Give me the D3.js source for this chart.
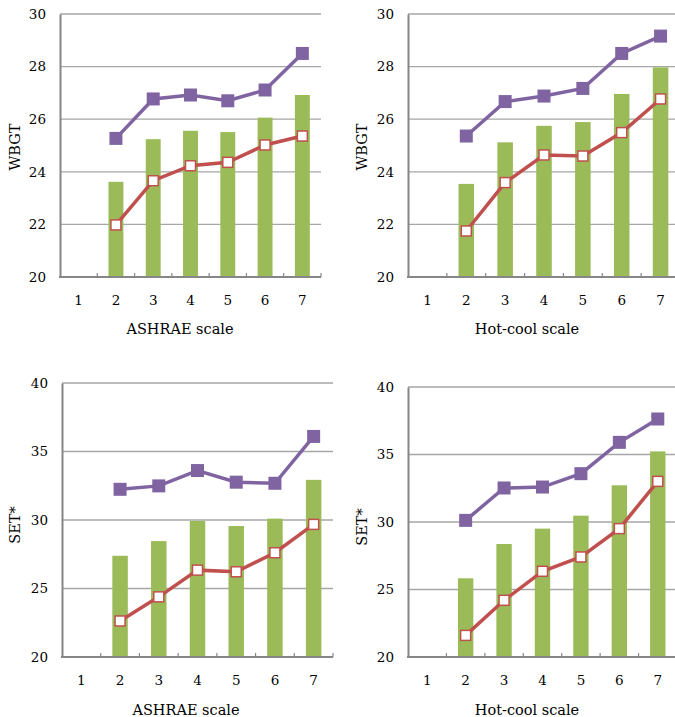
<!DOCTYPE html>
<html>
<head>
<meta charset="utf-8">
<script src="https://cdn.jsdelivr.net/npm/d3@7"></script>
<style>
  html, body { margin: 0; padding: 0; background: #fff; }
  svg { display: block; }
  text { font-family: "DejaVu Serif", serif; fill: #000; }
</style>
</head>
<body>
<svg id="chart" width="675" height="717"></svg>
<script>
// ---- data ----
const categories = [1, 2, 3, 4, 5, 6, 7];

const wbgtTicks = [20, 22, 24, 26, 28, 30];
const setTicks = [20, 25, 30, 35, 40];

const wbgtAshraeBars   = [null, 23.62, 25.24, 25.56, 25.51, 26.06, 26.92];
const wbgtAshraeUpper  = [null, 25.27, 26.77, 26.92, 26.70, 27.11, 28.50];
const wbgtAshraeLower  = [null, 21.98, 23.66, 24.23, 24.36, 25.02, 25.36];

const wbgtHotcoolBars  = [null, 23.54, 25.12, 25.75, 25.89, 26.96, 27.97];
const wbgtHotcoolUpper = [null, 25.36, 26.67, 26.88, 27.17, 28.50, 29.16];
const wbgtHotcoolLower = [null, 21.75, 23.59, 24.64, 24.60, 25.49, 26.77];

const setAshraeBars    = [null, 27.39, 28.46, 29.93, 29.56, 30.10, 32.93];
const setAshraeUpper   = [null, 32.24, 32.49, 33.61, 32.76, 32.68, 36.10];
const setAshraeLower   = [null, 22.63, 24.39, 26.34, 26.22, 27.61, 29.68];

const setHotcoolBars   = [null, 25.83, 28.37, 29.51, 30.47, 32.72, 35.23];
const setHotcoolUpper  = [null, 30.12, 32.52, 32.59, 33.58, 35.90, 37.63];
const setHotcoolLower  = [null, 21.60, 24.20, 26.35, 27.41, 29.51, 33.01];

// ---- panels (layout) ----
const panels = [
  { bars: wbgtAshraeBars, upper: wbgtAshraeUpper, lower: wbgtAshraeLower, ticks: wbgtTicks,
    yTitle: "WBGT", xTitle: "ASHRAE scale",
    left: 60, right: 321, top: 14, bottom: 277, xtx: 180, xty: 329, ytx: 15, yty: 147 },
  { bars: wbgtHotcoolBars, upper: wbgtHotcoolUpper, lower: wbgtHotcoolLower, ticks: wbgtTicks,
    yTitle: "WBGT", xTitle: "Hot-cool scale",
    left: 408, right: 680, top: 14, bottom: 277, xtx: 527, xty: 329, ytx: 362, yty: 147 },
  { bars: setAshraeBars, upper: setAshraeUpper, lower: setAshraeLower, ticks: setTicks,
    yTitle: "SET*", xTitle: "ASHRAE scale",
    left: 62, right: 333, top: 383, bottom: 657, xtx: 186, xty: 710, ytx: 15, yty: 525 },
  { bars: setHotcoolBars, upper: setHotcoolUpper, lower: setHotcoolLower, ticks: setTicks,
    yTitle: "SET*", xTitle: "Hot-cool scale",
    left: 408, right: 677, top: 387, bottom: 657, xtx: 527, xty: 710, ytx: 362, yty: 527 }
];

const COLORS = { bar: "#9BBB59", upper: "#8064A2", lower: "#C0504D", grid: "#a6a6a6", axis: "#868686" };
const FONT = '"DejaVu Serif", serif';

const svg = d3.select("#chart");

panels.forEach(p => {
  const g = svg.append("g");
  const x = d3.scaleBand().domain(categories).range([p.left, p.right]).paddingInner(0).paddingOuter(0);
  const y = d3.scaleLinear().domain([p.ticks[0], p.ticks[p.ticks.length - 1]]).range([p.bottom, p.top]);

  // gridlines
  g.append("g").selectAll("line")
    .data(p.ticks.slice(1))
    .join("line")
    .attr("x1", p.left).attr("x2", p.right)
    .attr("y1", d => y(d)).attr("y2", d => y(d))
    .attr("stroke", COLORS.grid).attr("stroke-width", 1.3);

  // y axis
  const yAxis = d3.axisLeft(y).tickValues(p.ticks).tickSize(0).tickPadding(14).tickFormat(d3.format("d"));
  const ya = g.append("g").attr("transform", `translate(${p.left},0)`).call(yAxis);
  ya.attr("font-family", null);
  ya.select(".domain").attr("stroke", COLORS.axis).attr("stroke-width", 2);
  ya.selectAll("text").style("font-family", FONT).style("font-size", "13.5px").attr("fill", "#000");

  // bars
  g.append("g").selectAll("rect")
    .data(categories.map((c, i) => ({ c, v: p.bars[i] })).filter(d => d.v != null))
    .join("rect")
    .attr("x", d => x(d.c) + x.bandwidth() * 0.3)
    .attr("width", x.bandwidth() * 0.4)
    .attr("y", d => y(d.v))
    .attr("height", d => y(p.ticks[0]) - y(d.v))
    .attr("fill", COLORS.bar);

  // x axis
  const xAxis = d3.axisBottom(x).tickSize(0).tickPadding(18);
  const xa = g.append("g").attr("transform", `translate(0,${p.bottom})`).call(xAxis);
  xa.attr("font-family", null);
  xa.select(".domain").remove();
  xa.selectAll("text").style("font-family", FONT).style("font-size", "13.5px").attr("fill", "#000");
  g.append("line").attr("x1", p.left - 1).attr("x2", p.right).attr("y1", p.bottom).attr("y2", p.bottom)
    .attr("stroke", COLORS.axis).attr("stroke-width", 2);
  // tick marks at band boundaries
  g.append("g").selectAll("line")
    .data(categories.slice(1).concat(["end"]))
    .join("line")
    .attr("x1", d => d === "end" ? p.right : x(d))
    .attr("x2", d => d === "end" ? p.right : x(d))
    .attr("y1", p.bottom).attr("y2", p.bottom - 4)
    .attr("stroke", COLORS.axis).attr("stroke-width", 1.2);

  const cx = c => x(c) + x.bandwidth() / 2;

  // upper line (purple)
  const upperPts = categories.map((c, i) => ({ c, v: p.upper[i] })).filter(d => d.v != null);
  g.append("path").datum(upperPts)
    .attr("d", d3.line().x(d => cx(d.c)).y(d => y(d.v)))
    .attr("fill", "none").attr("stroke", COLORS.upper).attr("stroke-width", 3.5);
  g.append("g").selectAll("rect").data(upperPts).join("rect")
    .attr("x", d => cx(d.c) - 6.5).attr("y", d => y(d.v) - 6.5)
    .attr("width", 13).attr("height", 13).attr("fill", COLORS.upper);

  // lower line (red)
  const lowerPts = categories.map((c, i) => ({ c, v: p.lower[i] })).filter(d => d.v != null);
  g.append("path").datum(lowerPts)
    .attr("d", d3.line().x(d => cx(d.c)).y(d => y(d.v)))
    .attr("fill", "none").attr("stroke", COLORS.lower).attr("stroke-width", 3.5);
  g.append("g").selectAll("rect").data(lowerPts).join("rect")
    .attr("x", d => cx(d.c) - 5).attr("y", d => y(d.v) - 5)
    .attr("width", 10).attr("height", 10).attr("fill", "#fff")
    .attr("stroke", COLORS.lower).attr("stroke-width", 1.5);

  // titles
  g.append("text").attr("x", p.xtx).attr("y", p.xty).attr("text-anchor", "middle")
    .attr("dominant-baseline", "central").style("font-family", FONT).style("font-size", "14.5px").text(p.xTitle);
  g.append("text").attr("transform", `translate(${p.ytx},${p.yty}) rotate(-90)`)
    .attr("text-anchor", "middle").attr("dominant-baseline", "central")
    .style("font-family", FONT).style("font-size", "14.5px").text(p.yTitle);
});
</script>
</body>
</html>
